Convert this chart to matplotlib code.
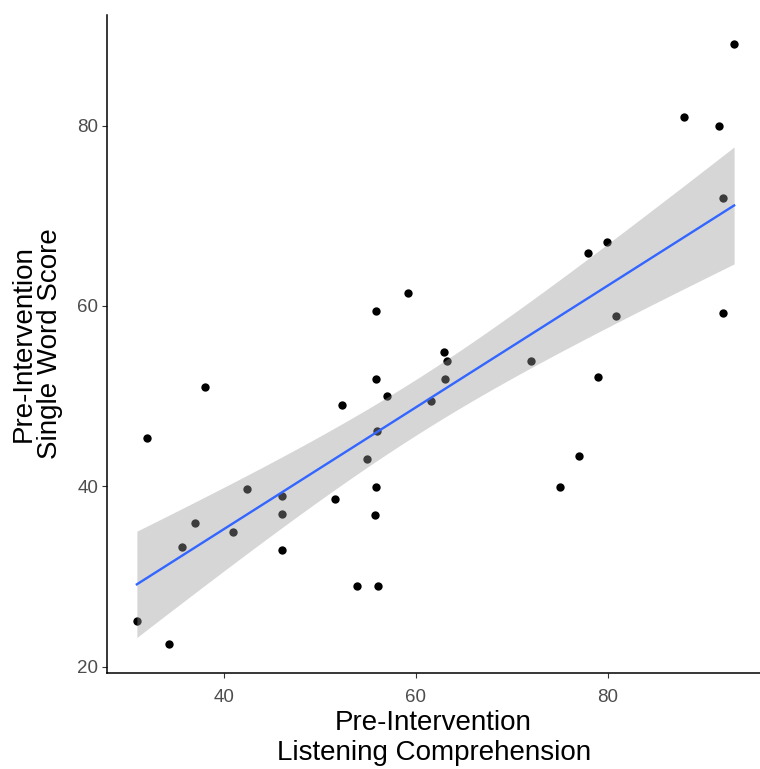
import matplotlib
matplotlib.use("Agg")
import matplotlib.pyplot as plt
import numpy as np

# listening comprehension (x) vs single word score (y), pre-intervention
listening = [30.9, 32.0, 38.0, 34.3, 35.6, 37.0, 40.9, 42.4, 46.0, 46.0,
             46.0, 52.3, 51.6, 55.8, 57.0, 55.9, 54.9, 55.8, 55.7, 53.9,
             56.1, 61.6, 62.9, 63.2, 63.0, 72.0, 79.0, 77.0, 75.0, 55.8,
             59.2, 93.2, 88.0, 91.6, 92.0, 79.9, 78.0, 80.9, 92.0]
single_word = [25.0, 45.4, 51.0, 22.5, 33.3, 35.9, 34.9, 39.7, 38.9, 36.9,
               32.9, 49.0, 38.6, 51.9, 50.0, 46.1, 43.0, 39.9, 36.8, 28.9,
               28.9, 49.5, 54.9, 53.9, 51.9, 53.9, 52.1, 43.4, 39.9, 59.4,
               61.4, 89.0, 80.9, 79.9, 72.0, 67.1, 65.9, 58.9, 59.2]

x_ticks = [40, 60, 80]
y_ticks = [20, 40, 60, 80]

plt.rcParams['font.family'] = ['Liberation Sans', 'DejaVu Sans']

x = np.array(listening)
y = np.array(single_word)
n = len(x)

# linear fit with 95% confidence band (like geom_smooth(method="lm"))
slope, intercept = np.polyfit(x, y, 1)
xs = np.linspace(x.min(), x.max(), 100)
ys = intercept + slope * xs
resid = y - (intercept + slope * x)
s = np.sqrt(np.sum(resid ** 2) / (n - 2))
t_val = 2.026  # t(0.975, df=37)
se = s * np.sqrt(1 / n + (xs - x.mean()) ** 2 / np.sum((x - x.mean()) ** 2))

fig = plt.figure(figsize=(7.6, 7.69), dpi=100)
ax = fig.add_axes([0.141, 0.125, 0.859, 0.856])

ax.scatter(x, y, s=36, color='black', zorder=2, linewidths=0)
ax.fill_between(xs, ys - t_val * se, ys + t_val * se, color='#999999',
                alpha=0.4, linewidth=0, zorder=3)
ax.plot(xs, ys, color='#3366FF', lw=1.7, zorder=4)

ax.set_xlim(27.8, 95.9)
ax.set_ylim(19.3, 92.3)
ax.set_xticks(x_ticks)
ax.set_yticks(y_ticks)

for side in ['top', 'right']:
    ax.spines[side].set_visible(False)
for side in ['left', 'bottom']:
    ax.spines[side].set_linewidth(1.1)
    ax.spines[side].set_color('black')

ax.tick_params(axis='both', length=3.5, width=0.8, color='#333333',
               labelsize=13.5, labelcolor='#4D4D4D')
ax.tick_params(axis='x', pad=8)
ax.tick_params(axis='y', pad=3)

ax.set_xlabel('Pre-Intervention\nListening Comprehension', fontsize=20,
              color='black', labelpad=3, linespacing=1.2)
ax.set_ylabel('Pre-Intervention\nSingle Word Score', fontsize=20,
              color='black', labelpad=10, linespacing=1.0)

fig.savefig('out.png', dpi=100)
